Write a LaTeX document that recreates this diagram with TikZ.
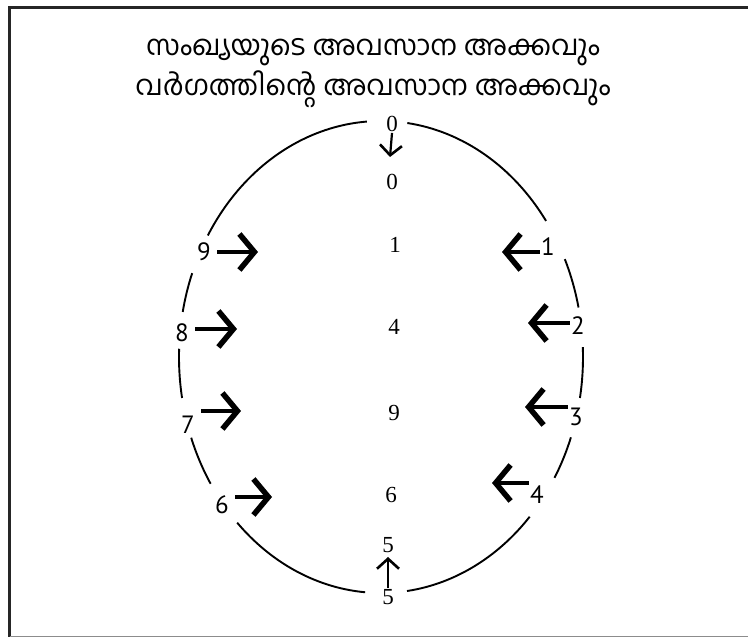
\documentclass[tikz,border=0pt]{standalone}
\usepackage{fontspec}
\usetikzlibrary{arrows.meta}
\newfontfamily\mlfont[Script=Malayalam]{Hind Kochi}
\newfontfamily\sidefont{PT Sans}
\newfontfamily\midfont{Liberation Serif}
\tikzset{
  ring/.style={line width=1.9bp},
  bigarrow/.style={line width=4.4bp,-{Straight Barb[length=15bp,width=36bp,line width=5.5bp]}},
  smallarrow/.style={line width=2.2bp,-{Straight Barb[length=10bp,width=22bp,line width=2.6bp]}},
  rim/.style={font=\sidefont\fontsize{25bp}{25bp}\selectfont,inner sep=1bp},
  mid/.style={font=\midfont\fontsize{23bp}{23bp}\selectfont,inner sep=1bp},
  headline/.style={anchor=base,font=\mlfont\fontsize{28bp}{28bp}\selectfont},
}
\begin{document}
\begin{tikzpicture}[x=1bp,y=1bp]
\useasboundingbox (0,0) rectangle (748,637);
% frame
\draw[line width=2.6bp,black!85] (9.7,0) -- (9.7,629.5) -- (760,629.5);
\draw[line width=1bp,black!45] (9.7,0.6) -- (760,0.6);
% title
\node[headline] (title1) at (373,581) {സംഖ്യയുടെ അവസാന അക്കവും};
\node[headline] (title2) at (373,541) {വർഗത്തിന്റെ അവസാന അക്കവും};
% ring, broken at each label
\coordinate (O) at (381,280);
\draw[ring] (O) ++(35.2:202 and 236) arc[start angle=35.2,end angle=82.5,x radius=202,y radius=236];
\draw[ring] (O) ++(94:202 and 236) arc[start angle=94,end angle=149,x radius=202,y radius=236];
\draw[ring] (O) ++(159.2:202 and 236) arc[start angle=159.2,end angle=169,x radius=202,y radius=236];
\draw[ring] (O) ++(178:202 and 236) arc[start angle=178,end angle=190,x radius=202,y radius=236];
\draw[ring] (O) ++(200:202 and 236) arc[start angle=200,end angle=212.5,x radius=202,y radius=236];
\draw[ring] (O) ++(224.6:202 and 236) arc[start angle=224.6,end angle=265.5,x radius=202,y radius=236];
\draw[ring] (O) ++(277.4:202 and 236) arc[start angle=277.4,end angle=317.4,x radius=202,y radius=236];
\draw[ring] (O) ++(329.2:202 and 236) arc[start angle=329.2,end angle=340.1,x radius=202,y radius=236];
\draw[ring] (O) ++(350:202 and 236) arc[start angle=350,end angle=362.4,x radius=202,y radius=236];
\draw[ring] (O) ++(372.1:202 and 236) arc[start angle=372.1,end angle=384.5,x radius=202,y radius=236];
% digits on the ring
\node[mid] (r0) at (392,513) {0};
\node[rim] (r1) at (548,390) {1};
\node[rim] (r2) at (578,311) {2};
\node[rim] (r3) at (576,220) {3};
\node[rim] (r4) at (537,142) {4};
\node[mid] (r5) at (388,40) {5};
\node[rim] (r6) at (222,132) {6};
\node[rim] (r7) at (188,212) {7};
\node[rim] (r8) at (182,304) {8};
\node[rim] (r9) at (204,385) {9};
% last digits of the squares
\node[mid] (c0) at (392,455) {0};
\node[mid] (c1) at (395,392) {1};
\node[mid] (c4) at (394,310) {4};
\node[mid] (c9) at (394,224) {9};
\node[mid] (c6) at (391,142) {6};
\node[mid] (c5) at (388,92) {5};
% arrow tips
\coordinate (a0) at (390,480);
\coordinate (a1) at (502,385);
\coordinate (a2) at (528,314);
\coordinate (a3) at (525,230);
\coordinate (a4) at (492,154);
\coordinate (a5) at (388,80);
\coordinate (a6) at (272,140);
\coordinate (a7) at (241,226);
\coordinate (a8) at (237,308);
\coordinate (a9) at (258,385);
\draw[smallarrow] (r0.south) -- (a0);
\draw[smallarrow] (r5.north) -- (a5);
\draw[bigarrow] (r1.west |- a1) -- (a1);
\draw[bigarrow] (r2.west |- a2) -- (a2);
\draw[bigarrow] (r3.west |- a3) -- (a3);
\draw[bigarrow] (r4.west |- a4) -- (a4);
\draw[bigarrow,shorten <=5bp] (r6.east |- a6) -- (a6);
\draw[bigarrow,shorten <=5bp] (r7.east |- a7) -- (a7);
\draw[bigarrow,shorten <=5bp] (r8.east |- a8) -- (a8);
\draw[bigarrow,shorten <=5bp] (r9.east |- a9) -- (a9);
\end{tikzpicture}
\end{document}
